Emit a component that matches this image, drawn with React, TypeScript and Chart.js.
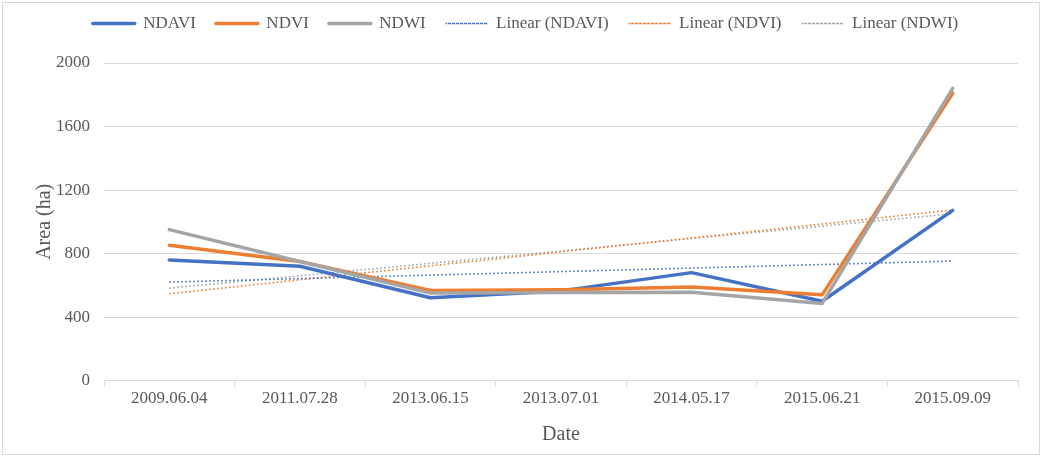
import React, { useEffect, useRef } from "react";
import { Chart, registerables } from "chart.js";

Chart.register(...registerables);

const categories = ["2009.06.04", "2011.07.28", "2013.06.15", "2013.07.01", "2014.05.17", "2015.06.21", "2015.09.09"];
const ndavi = [760, 720, 522, 565, 680, 500, 1072];
const ndvi = [852, 750, 568, 572, 589, 540, 1809];
const ndwi = [951, 750, 551, 555, 557, 486, 1840];
// Trendline endpoints
const trendNdavi = [620, null, null, null, null, null, 753];
const trendNdvi = [547, null, null, null, null, null, 1074];
const trendNdwi = [582, null, null, null, null, null, 1051];
const yTicks = [0, 400, 800, 1200, 1600, 2000];

const BLUE = "#4472C4";
const ORANGE = "#ED7D31";
const GRAY = "#A5A5A5";
const FONT = "'Liberation Serif', 'Times New Roman', serif";
const TEXT = "#595959";

const legendSpacer = {
  id: "legendSpacer",
  beforeInit(chart: any) {
    const legend = chart.legend;
    if (!legend) return;
    const orig = legend.fit;
    legend.fit = function () {
      orig.call(this);
      this.height += 21;
    };
  },
};

export default function App() {
  const ref = useRef<HTMLCanvasElement | null>(null);
  useEffect(() => {
    document.body.style.margin = "0";
    const solid = (label: string, data: number[], color: string, order: number) => ({
      label,
      data,
      borderColor: color,
      backgroundColor: color,
      borderWidth: 3.5,
      pointRadius: 0,
      borderJoinStyle: "round" as const,
      borderCapStyle: "round" as const,
      order,
    });
    const dotted = (label: string, data: (number | null)[], color: string) => ({
      label,
      data,
      borderColor: color,
      backgroundColor: color,
      borderWidth: 1.6,
      borderDash: [1.6, 2.4],
      pointRadius: 0,
      spanGaps: true,
      order: 10,
    });
    const chart = new Chart(ref.current!, {
      type: "line",
      plugins: [legendSpacer],
      data: {
        labels: categories,
        datasets: [
          solid("NDAVI", ndavi, BLUE, 3),
          solid("NDVI", ndvi, ORANGE, 2),
          solid("NDWI", ndwi, GRAY, 1),
          dotted("Linear (NDAVI)", trendNdavi, BLUE),
          dotted("Linear (NDVI)", trendNdvi, ORANGE),
          dotted("Linear (NDWI)", trendNdwi, GRAY),
        ],
      },
      options: {
        animation: false,
        responsive: false,
        maintainAspectRatio: false,
        layout: { padding: { left: 33, right: 25, top: -5, bottom: 11 } },
        plugins: {
          tooltip: { enabled: false },
          legend: {
            position: "top",
            align: "center",
            labels: {
              usePointStyle: false,
              boxWidth: 42,
              boxHeight: 0,
              padding: 20,
              color: TEXT,
              font: { family: FONT, size: 17 },
              sort: (a: any, b: any) => a.datasetIndex - b.datasetIndex,
            },
          },
        },
        scales: {
          x: {
            offset: true,
            grid: {
              offset: true,
              drawOnChartArea: false,
              tickLength: 6,
              color: "#d9d9d9",
            },
            border: { color: "#d9d9d9" },
            ticks: { color: TEXT, font: { family: FONT, size: 17 }, maxRotation: 0, padding: 2 },
            title: {
              display: true,
              text: "Date",
              color: TEXT,
              font: { family: FONT, size: 20 },
              padding: { top: 12, bottom: 0 },
            },
          },
          y: {
            min: 0,
            max: 2000,
            afterBuildTicks: (axis: any) => {
              axis.ticks = yTicks.map((v) => ({ value: v }));
            },
            afterFit: (axis: any) => {
              axis.width = 71;
            },
            grid: { color: "#d9d9d9", drawTicks: false },
            border: { display: false },
            ticks: {
              color: TEXT,
              font: { family: FONT, size: 17 },
              padding: 14,
              callback: (v: any) => String(v),
            },
            title: {
              display: true,
              text: "Area (ha)",
              color: TEXT,
              font: { family: FONT, size: 20 },
              padding: { top: 0, bottom: 0 },
            },
          },
        },
      },
    });
    return () => chart.destroy();
  }, []);
  return (
    <div style={{ position: "relative", width: 1043, height: 458 }}>
      <canvas ref={ref} width={1043} height={458} style={{ position: "absolute", left: 0, top: 0 }} />
      <div
        style={{
          position: "absolute",
          left: 2,
          top: 2,
          width: 1036,
          height: 451,
          border: "1px solid #d9d9d9",
          pointerEvents: "none",
        }}
      />
    </div>
  );
}
